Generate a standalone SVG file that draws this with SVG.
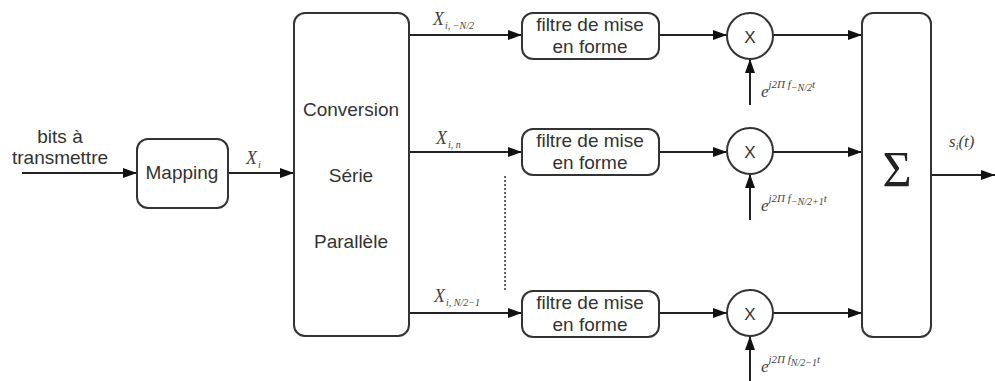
<svg xmlns="http://www.w3.org/2000/svg" width="995" height="381" viewBox="0 0 995 381">
  <style>
    .box { fill: #ffffff; stroke: #333333; stroke-width: 2; }
    .wire { fill: none; stroke: #222222; stroke-width: 2; }
    .dots { fill: none; stroke: #333333; stroke-width: 1.5; stroke-dasharray: 2 2; }
    .lbl { font-family: "Liberation Sans", Arial, sans-serif; font-size: 19px; fill: #333333; text-anchor: middle; }
    .mul { font-family: "Liberation Sans", Arial, sans-serif; font-size: 17px; fill: #333333; text-anchor: middle; }
    .math { font-family: "Liberation Serif", "Times New Roman", serif; font-style: italic; fill: #444444; }
    .sub { font-size: 10px; }
    .sup { font-size: 11px; }
  </style>
  <defs>
    <marker id="arrow" markerUnits="userSpaceOnUse" markerWidth="15" markerHeight="11" refX="14" refY="5" orient="auto">
      <path d="M0,0 L14,5 L0,10 z" fill="#111111"/>
    </marker>
  </defs>

  <rect width="995" height="381" fill="#ffffff"/>

  <!-- connectors -->
  <g id="connectors">
    <line class="wire" x1="22" y1="173" x2="137" y2="173" marker-end="url(#arrow)"/>
    <line class="wire" x1="228" y1="173" x2="294" y2="173" marker-end="url(#arrow)"/>

    <line class="wire" x1="409" y1="35" x2="522" y2="35" marker-end="url(#arrow)"/>
    <line class="wire" x1="409" y1="152" x2="522" y2="152" marker-end="url(#arrow)"/>
    <line class="wire" x1="409" y1="313" x2="522" y2="313" marker-end="url(#arrow)"/>

    <line class="wire" x1="659" y1="35" x2="727" y2="35" marker-end="url(#arrow)"/>
    <line class="wire" x1="659" y1="152" x2="727" y2="152" marker-end="url(#arrow)"/>
    <line class="wire" x1="659" y1="313" x2="727" y2="313" marker-end="url(#arrow)"/>

    <line class="wire" x1="750" y1="105" x2="750" y2="59" marker-end="url(#arrow)"/>
    <line class="wire" x1="750" y1="220" x2="750" y2="174" marker-end="url(#arrow)"/>
    <line class="wire" x1="750" y1="381" x2="750" y2="336" marker-end="url(#arrow)"/>

    <line class="wire" x1="773" y1="35" x2="862" y2="35" marker-end="url(#arrow)"/>
    <line class="wire" x1="773" y1="152" x2="862" y2="152" marker-end="url(#arrow)"/>
    <line class="wire" x1="773" y1="313" x2="862" y2="313" marker-end="url(#arrow)"/>

    <line class="wire" x1="931" y1="175" x2="995" y2="175" marker-end="url(#arrow)"/>

    <line class="dots" x1="505" y1="176" x2="505" y2="290"/>
  </g>

  <!-- input label -->
  <g id="input">
    <text class="lbl" x="60" y="143">bits à</text>
    <text class="lbl" x="60" y="164">transmettre</text>
  </g>

  <g id="mapping">
    <rect class="box" x="137" y="139" width="91" height="69" rx="11"/>
    <text class="lbl" x="182" y="179">Mapping</text>
  </g>

  <text class="math" x="246" y="164" font-size="18">X<tspan class="sub" dx="1" dy="4">i</tspan></text>

  <g id="conversion">
    <rect class="box" x="294" y="13" width="115" height="323" rx="11"/>
    <text class="lbl" x="351" y="116">Conversion</text>
    <text class="lbl" x="351" y="182">Série</text>
    <text class="lbl" x="351" y="248">Parallèle</text>
  </g>

  <!-- branch labels -->
  <text class="math" x="433" y="25" font-size="18">X<tspan class="sub" dx="1" dy="4">i, −N/2</tspan></text>
  <text class="math" x="436" y="144" font-size="18">X<tspan class="sub" dx="1" dy="4">i, n</tspan></text>
  <text class="math" x="434" y="302" font-size="18">X<tspan class="sub" dx="1" dy="4">i, N/2−1</tspan></text>

  <g id="filter1">
    <rect class="box" x="522" y="13" width="137" height="46" rx="11"/>
    <text class="lbl" x="590" y="31">filtre de mise</text>
    <text class="lbl" x="590" y="53">en forme</text>
  </g>
  <g id="filter2">
    <rect class="box" x="522" y="129" width="137" height="46" rx="11"/>
    <text class="lbl" x="590" y="147">filtre de mise</text>
    <text class="lbl" x="590" y="169">en forme</text>
  </g>
  <g id="filter3">
    <rect class="box" x="522" y="291" width="137" height="46" rx="11"/>
    <text class="lbl" x="590" y="309">filtre de mise</text>
    <text class="lbl" x="590" y="331">en forme</text>
  </g>

  <g id="mult1">
    <circle class="box" cx="750" cy="36" r="23"/>
    <text class="mul" x="750" y="43">X</text>
  </g>
  <g id="mult2">
    <circle class="box" cx="750" cy="151" r="23"/>
    <text class="mul" x="750" y="158">X</text>
  </g>
  <g id="mult3">
    <circle class="box" cx="750" cy="313" r="23"/>
    <text class="mul" x="750" y="320">X</text>
  </g>

  <!-- carrier labels -->
  <text class="math" x="761" y="97" font-size="17">e<tspan class="sup" dy="-9">j2Π f</tspan><tspan class="sub" dy="3">−N/2</tspan><tspan class="sup" dy="-3">t</tspan></text>
  <text class="math" x="761" y="211" font-size="17">e<tspan class="sup" dy="-9">j2Π f</tspan><tspan class="sub" dy="3">−N/2+1</tspan><tspan class="sup" dy="-3">t</tspan></text>
  <text class="math" x="761" y="372" font-size="17">e<tspan class="sup" dy="-9">j2Π f</tspan><tspan class="sub" dy="3">N/2−1</tspan><tspan class="sup" dy="-3">t</tspan></text>

  <g id="sum">
    <rect class="box" x="862" y="13" width="69" height="324" rx="11"/>
    <text x="897" y="186" font-family="Liberation Serif, 'Times New Roman', serif" font-size="50" fill="#222222" text-anchor="middle">Σ</text>
  </g>

  <text class="math" x="949" y="147" font-size="17">s<tspan class="sub" dy="3">i</tspan><tspan dy="-3">(t)</tspan></text>
</svg>
